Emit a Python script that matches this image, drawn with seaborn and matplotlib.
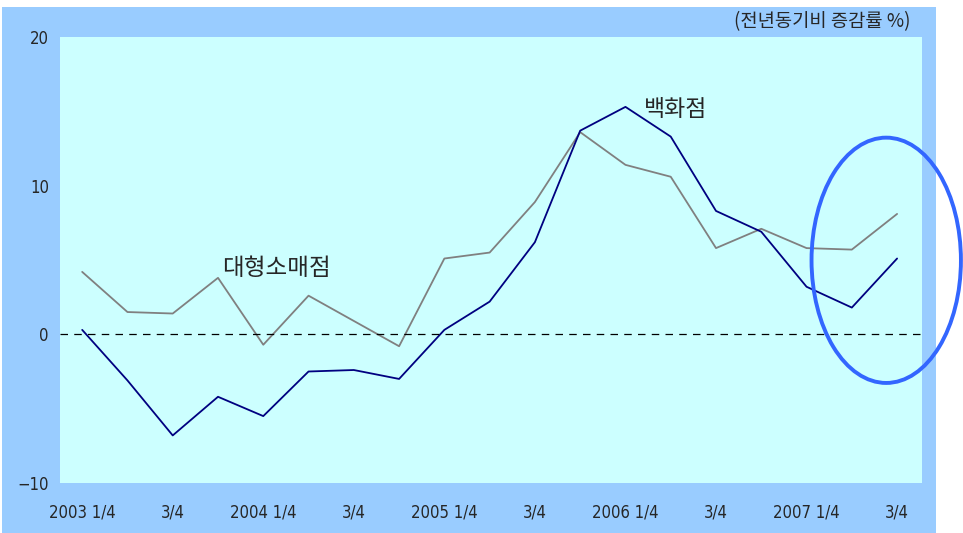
import numpy as np
import pandas as pd
import matplotlib
matplotlib.use('Agg')
import matplotlib.pyplot as plt
import seaborn as sns
from matplotlib.patches import Rectangle, Ellipse

sns.set_style('white')
plt.rcParams['font.family'] = ['Noto Sans CJK KR', 'DejaVu Sans']

# data (전년동기비 증감률 %), 2003 1/4 ~ 2007 3/4
quarters = ['2003 1/4', '2/4', '3/4', '4/4',
            '2004 1/4', '2/4', '3/4', '4/4',
            '2005 1/4', '2/4', '3/4', '4/4',
            '2006 1/4', '2/4', '3/4', '4/4',
            '2007 1/4', '2/4', '3/4']
dept = [0.3, -3.1, -6.8, -4.2, -5.5, -2.5, -2.4, -3.0, 0.3, 2.2,
        6.2, 13.7, 15.3, 13.3, 8.3, 6.9, 3.2, 1.8, 5.1]
large = [4.2, 1.5, 1.4, 3.8, -0.7, 2.6, 0.9, -0.8, 5.1, 5.5,
         8.9, 13.6, 11.4, 10.6, 5.8, 7.1, 5.8, 5.7, 8.1]
tick_idx = [0, 2, 4, 6, 8, 10, 12, 14, 16, 18]
tick_lab = ['2003 1/4', '3/4', '2004 1/4', '3/4', '2005 1/4', '3/4',
            '2006 1/4', '3/4', '2007 1/4', '3/4']

df = pd.DataFrame({'idx': np.arange(len(quarters)), 'dept': dept, 'large': large})

fig = plt.figure(figsize=(9.63, 5.33), dpi=100)
W, H = 963, 533
# outer frame
fig.patches.append(Rectangle((2 / W, 0), 934 / W, 526 / H, transform=fig.transFigure,
                             facecolor='#99ccff', edgecolor='none', zorder=-10))
ax = fig.add_axes([60 / W, 1 - 483 / H, 862 / W, 446 / H])
ax.set_facecolor('#ccffff')
for s in ax.spines.values():
    s.set_visible(False)

sns.lineplot(data=df, x='idx', y='large', color='#808080', lw=1.3, ax=ax)
sns.lineplot(data=df, x='idx', y='dept', color='#000080', lw=1.3, ax=ax)
ax.axhline(0, color='black', lw=0.9, ls=(0, (6, 5)))

ax.set_xlim(-0.49, 18.55)
ax.set_ylim(-10, 20)
ax.set_yticks([-10, 0, 10, 20])
ax.set_xticks(tick_idx)
ax.set_xticklabels(tick_lab)
ax.tick_params(axis='both', length=0, labelsize=12)
ax.tick_params(axis='x', pad=15)
ax.tick_params(axis='y', pad=8)
for t in ax.get_xticklabels() + ax.get_yticklabels():
    t.set_family('DejaVu Sans')
    t.set_stretch('condensed')
ax.set_xlabel('')
ax.set_ylabel('')

ax.text(3.08, 4.4, '대형소매점', fontsize=17, va='center', ha='left')
ax.text(12.4, 15.15, '백화점', fontsize=16.5, va='center', ha='left')
fig.text(910 / W, 1 - 22 / H, '(전년동기비 증감률 %)', fontsize=13.5,
         ha='right', va='center')

ell = Ellipse((17.76, 4.98), 3.3, 16.5, fill=False, edgecolor='#3366ff',
              lw=2.8, clip_on=False, zorder=5)
ax.add_patch(ell)

fig.savefig('out.png', dpi=100)
